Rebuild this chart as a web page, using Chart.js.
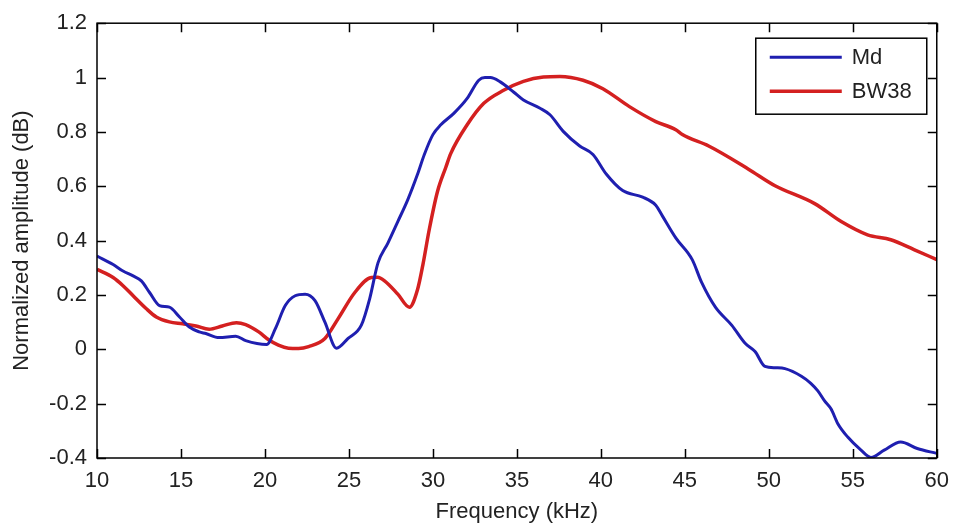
<!DOCTYPE html>
<html>
<head>
<meta charset="utf-8">
<script src="https://cdn.jsdelivr.net/npm/chart.js@4"></script>
<style>
  html, body { margin: 0; padding: 0; background: #fff; }
  #wrap { width: 959px; height: 525px; position: relative; }
</style>
</head>
<body>
<div id="wrap"><canvas id="myChart"></canvas></div>
<script>
// Md response
const mdFreq = [10, 10.96, 11.55, 12.15, 12.64, 13.13, 13.72, 14.31, 14.9, 15.5, 16.09, 16.48, 17.27, 18.26, 18.85, 20.1,
    20.62, 21.21, 21.8, 22.39, 22.98, 23.57, 24.26, 24.95, 25.74, 26.23, 26.73, 27.32, 27.91, 28.5, 29.09, 29.49, 30.0,
    30.47, 31.26, 32.04, 32.73, 33.1, 33.42, 34.01, 34.8, 35.39, 36.38, 36.97, 37.76, 38.74, 39.53, 40.32, 41.3, 42.49,
    43.27, 43.67, 44.46, 45.44, 46.0, 46.82, 47.8, 48.59, 49.18, 49.77, 50.4, 50.96, 51.94, 52.5, 52.92, 53.32, 53.71,
    54.11, 54.7, 55.49, 56.08, 56.87, 57.85, 58.84, 60];
const mdAmp = [0.343, 0.312, 0.288, 0.270, 0.252, 0.209, 0.161, 0.155, 0.12, 0.082, 0.064, 0.058, 0.043, 0.048, 0.032, 0.018,
    0.076, 0.161, 0.197, 0.203, 0.179, 0.10, 0.004, 0.04, 0.089, 0.185, 0.318, 0.391, 0.47, 0.55, 0.645, 0.717, 0.79,
    0.826, 0.869, 0.923, 0.99, 1.0, 1.0, 0.984, 0.947, 0.917, 0.887, 0.863, 0.802, 0.748, 0.717, 0.645, 0.584, 0.56,
    0.53, 0.49, 0.41, 0.33, 0.246, 0.155, 0.088, 0.022, -0.008, -0.063, -0.068, -0.071, -0.099, -0.125, -0.153, -0.19, -0.22,
    -0.274, -0.323, -0.371, -0.398, -0.371, -0.341, -0.365, -0.383];

// BW38 response
const bwFreq = [10, 10.96, 11.55, 12.15, 12.94, 13.53, 14.31, 15.1, 15.89, 16.68, 17.46, 18.3, 18.85, 19.63, 20.22, 20.8,
    21.4, 22.0, 22.6, 23.57, 24.36, 25.35, 26.33, 26.7, 27.12, 27.91, 28.6, 29.09, 29.4, 29.78, 30.27, 30.77, 31.06, 32.04,
    33.03, 34.21, 35.39, 36.58, 37.56, 38.94, 40.12, 41.7, 43.27, 44.46, 44.85, 46.42, 48.79, 50.37, 52.73, 54.31, 55.88,
    57.26, 58.64, 60];
const bwAmp = [0.294, 0.264, 0.234, 0.197, 0.149, 0.119, 0.101, 0.094, 0.086, 0.074, 0.086, 0.098, 0.091, 0.064, 0.035, 0.015,
    0.004, 0.003, 0.01, 0.04, 0.113, 0.209, 0.264, 0.265, 0.252, 0.203, 0.155, 0.221, 0.31, 0.44, 0.58, 0.67, 0.72, 0.826,
    0.905, 0.953, 0.986, 1.002, 1.004, 0.99, 0.959, 0.893, 0.838, 0.808, 0.79, 0.748, 0.663, 0.602, 0.536, 0.470, 0.421,
    0.403, 0.367, 0.330];

const seriesNames = ['Md', 'BW38'];
const seriesColors = ['#1f1fb0', '#d42020'];

const toPoints = (xs, ys) => xs.map((x, i) => ({ x: x, y: ys[i] }));

const FONT = 'Liberation Sans, Arial, sans-serif';
const TEXT = '#222';

// box around the plot with inward ticks on all four sides
const frameTicks = {
    id: 'frameTicks',
    afterDatasetsDraw(chart) {
        const { ctx, chartArea: a, scales: { x, y } } = chart;
        const len = 9;
        ctx.save();
        ctx.strokeStyle = '#000';
        ctx.lineWidth = 1.5;
        ctx.strokeRect(a.left, a.top, a.right - a.left, a.bottom - a.top);
        ctx.beginPath();
        x.ticks.forEach(t => {
            const px = Math.round(x.getPixelForValue(t.value)) + 0.5;
            ctx.moveTo(px, a.bottom); ctx.lineTo(px, a.bottom - len);
            ctx.moveTo(px, a.top); ctx.lineTo(px, a.top + len);
        });
        y.ticks.forEach(t => {
            const py = Math.round(y.getPixelForValue(t.value)) + 0.5;
            ctx.moveTo(a.left, py); ctx.lineTo(a.left + len, py);
            ctx.moveTo(a.right, py); ctx.lineTo(a.right - len, py);
        });
        ctx.stroke();
        ctx.restore();
    }
};

// legend box in the upper right corner of the plot
const boxLegend = {
    id: 'boxLegend',
    afterDraw(chart) {
        const { ctx, chartArea: a } = chart;
        const bx = a.right - 181, by = a.top + 15, bw = 171, bh = 76;
        ctx.save();
        ctx.fillStyle = '#fff';
        ctx.fillRect(bx, by, bw, bh);
        ctx.strokeStyle = '#000';
        ctx.lineWidth = 1.5;
        ctx.strokeRect(bx, by, bw, bh);
        chart.data.datasets.forEach((ds, i) => {
            const ly = by + 19 + i * 34;
            ctx.strokeStyle = ds.borderColor;
            ctx.lineWidth = ds.borderWidth;
            ctx.beginPath();
            ctx.moveTo(bx + 14, ly);
            ctx.lineTo(bx + 86, ly);
            ctx.stroke();
            ctx.fillStyle = TEXT;
            ctx.font = '22px ' + FONT;
            ctx.textBaseline = 'middle';
            ctx.fillText(ds.label, bx + 96, ly + 1);
        });
        ctx.restore();
    }
};

const ctx = document.getElementById('myChart').getContext('2d');

const myChart = new Chart(ctx, {
    type: 'line',
    data: {
        datasets: [{
            label: seriesNames[0],
            data: toPoints(mdFreq, mdAmp),
            borderColor: seriesColors[0],
            borderWidth: 3
        }, {
            label: seriesNames[1],
            data: toPoints(bwFreq, bwAmp),
            borderColor: seriesColors[1],
            borderWidth: 3.5
        }]
    },
    options: {
        responsive: true,
        maintainAspectRatio: false,
        animation: false,
        layout: { padding: { top: 17, right: 14, left: 0, bottom: 0 } },
        elements: {
            point: { radius: 0 },
            line: { cubicInterpolationMode: 'monotone', borderJoinStyle: 'round' }
        },
        plugins: {
            legend: { display: false },
            tooltip: { enabled: false }
        },
        scales: {
            x: {
                type: 'linear',
                min: 10,
                max: 60,
                afterFit: s => { s.height = 67; },
                grid: { display: false, drawTicks: false },
                border: { display: false },
                ticks: {
                    stepSize: 5,
                    padding: 10,
                    color: TEXT,
                    font: { family: FONT, size: 22 },
                    maxRotation: 0
                },
                title: {
                    display: true,
                    text: 'Frequency (kHz)',
                    color: TEXT,
                    font: { family: FONT, size: 22, lineHeight: 1 },
                    padding: { top: 0, bottom: 2 }
                }
            },
            y: {
                min: -0.4,
                max: 1.2,
                afterFit: s => { s.width = 97; },
                grid: { display: false, drawTicks: false },
                border: { display: false },
                ticks: {
                    stepSize: 0.2,
                    padding: 10,
                    color: TEXT,
                    font: { family: FONT, size: 22 },
                    callback: v => String(Number(v.toFixed(1)))
                },
                title: {
                    display: true,
                    text: 'Normalized amplitude (dB)',
                    color: TEXT,
                    font: { family: FONT, size: 22, lineHeight: 1 },
                    padding: { top: 11, bottom: 0 }
                }
            }
        }
    },
    plugins: [frameTicks, boxLegend]
});
</script>
</body>
</html>
